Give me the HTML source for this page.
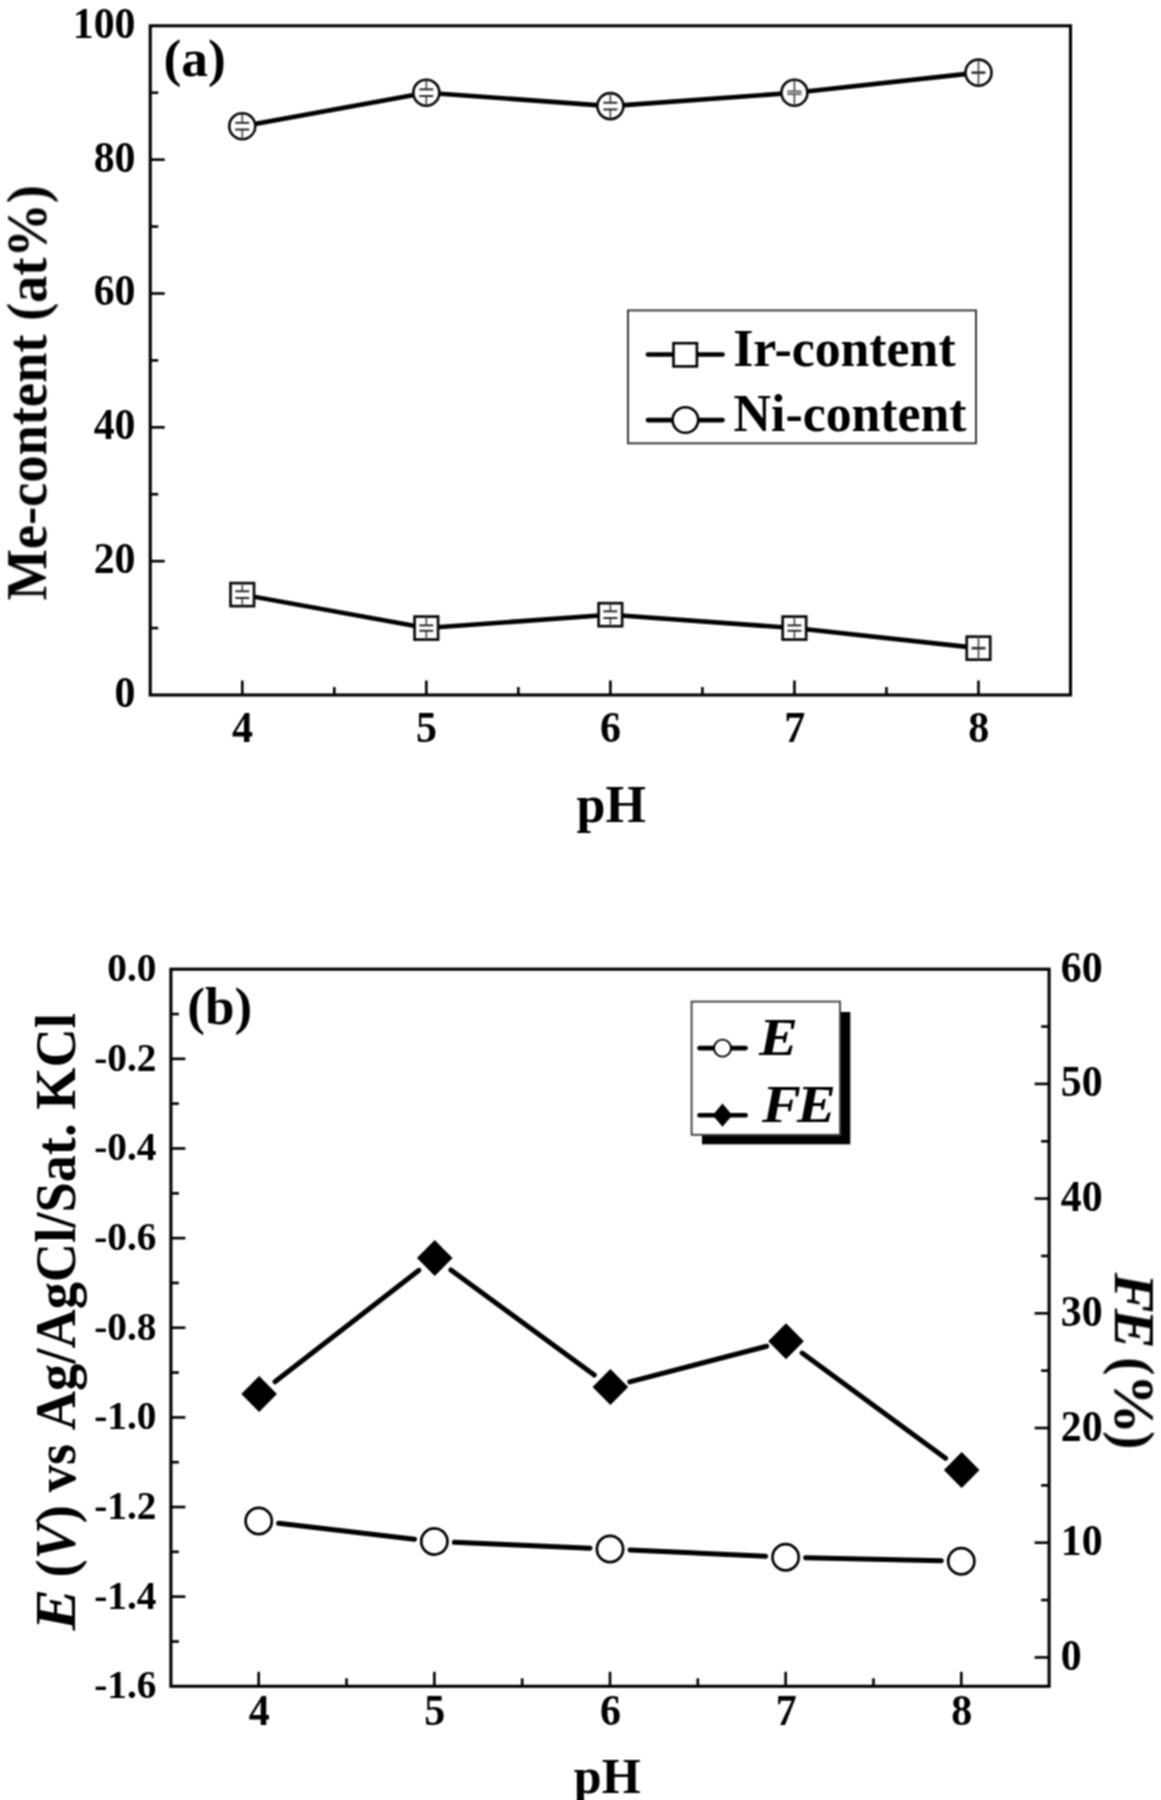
<!DOCTYPE html>
<html lang="en"><head><meta charset="utf-8"><title>Figure</title>
<style>html,body{margin:0;padding:0;background:#fff}svg{display:block}text{font-family:'Liberation Serif', 'Times New Roman', serif;font-weight:bold;fill:#000}</style></head><body>
<svg width="1161" height="1800" viewBox="0 0 1161 1800">
<defs><filter id="soft" x="0" y="0" width="1161" height="1800" filterUnits="userSpaceOnUse" color-interpolation-filters="sRGB"><feConvolveMatrix order="3" kernelMatrix="2 3 2 3 4 3 2 3 2" divisor="24" edgeMode="duplicate" preserveAlpha="true"/></filter></defs>
<g filter="url(#soft)">
<rect width="1161" height="1800" fill="#fff"/>
<rect x="150.25" y="25.80" width="920.25" height="669.20" fill="none" stroke="#000" stroke-width="3.10"/>
<line x1="150.25" y1="628.08" x2="158.25" y2="628.08" stroke="#000" stroke-width="2.60" stroke-linecap="butt"/>
<line x1="150.25" y1="561.16" x2="164.75" y2="561.16" stroke="#000" stroke-width="2.60" stroke-linecap="butt"/>
<line x1="150.25" y1="494.24" x2="158.25" y2="494.24" stroke="#000" stroke-width="2.60" stroke-linecap="butt"/>
<line x1="150.25" y1="427.32" x2="164.75" y2="427.32" stroke="#000" stroke-width="2.60" stroke-linecap="butt"/>
<line x1="150.25" y1="360.40" x2="158.25" y2="360.40" stroke="#000" stroke-width="2.60" stroke-linecap="butt"/>
<line x1="150.25" y1="293.48" x2="164.75" y2="293.48" stroke="#000" stroke-width="2.60" stroke-linecap="butt"/>
<line x1="150.25" y1="226.56" x2="158.25" y2="226.56" stroke="#000" stroke-width="2.60" stroke-linecap="butt"/>
<line x1="150.25" y1="159.64" x2="164.75" y2="159.64" stroke="#000" stroke-width="2.60" stroke-linecap="butt"/>
<line x1="150.25" y1="92.72" x2="158.25" y2="92.72" stroke="#000" stroke-width="2.60" stroke-linecap="butt"/>
<line x1="242.28" y1="695.00" x2="242.28" y2="680.50" stroke="#000" stroke-width="2.60" stroke-linecap="butt"/>
<line x1="334.30" y1="695.00" x2="334.30" y2="687.00" stroke="#000" stroke-width="2.60" stroke-linecap="butt"/>
<line x1="426.33" y1="695.00" x2="426.33" y2="680.50" stroke="#000" stroke-width="2.60" stroke-linecap="butt"/>
<line x1="518.35" y1="695.00" x2="518.35" y2="687.00" stroke="#000" stroke-width="2.60" stroke-linecap="butt"/>
<line x1="610.38" y1="695.00" x2="610.38" y2="680.50" stroke="#000" stroke-width="2.60" stroke-linecap="butt"/>
<line x1="702.40" y1="695.00" x2="702.40" y2="687.00" stroke="#000" stroke-width="2.60" stroke-linecap="butt"/>
<line x1="794.43" y1="695.00" x2="794.43" y2="680.50" stroke="#000" stroke-width="2.60" stroke-linecap="butt"/>
<line x1="886.45" y1="695.00" x2="886.45" y2="687.00" stroke="#000" stroke-width="2.60" stroke-linecap="butt"/>
<line x1="978.48" y1="695.00" x2="978.48" y2="680.50" stroke="#000" stroke-width="2.60" stroke-linecap="butt"/>
<text transform="translate(135.50 707.00) scale(1.000 1.050)" font-size="41.80" text-anchor="end" >0</text>
<text transform="translate(135.50 573.16) scale(1.000 1.050)" font-size="41.80" text-anchor="end" >20</text>
<text transform="translate(135.50 439.32) scale(1.000 1.050)" font-size="41.80" text-anchor="end" >40</text>
<text transform="translate(135.50 305.48) scale(1.000 1.050)" font-size="41.80" text-anchor="end" >60</text>
<text transform="translate(135.50 171.64) scale(1.000 1.050)" font-size="41.80" text-anchor="end" >80</text>
<text transform="translate(135.50 37.80) scale(1.000 1.050)" font-size="41.80" text-anchor="end" >100</text>
<text transform="translate(242.47 742.00) scale(1.000 1.040)" font-size="42.00" text-anchor="middle" >4</text>
<text transform="translate(426.53 742.00) scale(1.000 1.040)" font-size="42.00" text-anchor="middle" >5</text>
<text transform="translate(610.58 742.00) scale(1.000 1.040)" font-size="42.00" text-anchor="middle" >6</text>
<text transform="translate(794.63 742.00) scale(1.000 1.040)" font-size="42.00" text-anchor="middle" >7</text>
<text transform="translate(978.68 742.00) scale(1.000 1.040)" font-size="42.00" text-anchor="middle" >8</text>
<text x="611.30" y="822.00" font-size="52.00" text-anchor="middle" >pH</text>
<text x="163.50" y="76.30" font-size="53.50" text-anchor="start" >(a)</text>
<text transform="translate(45.9 600.4) rotate(-90) scale(1 1.035)" font-size="54.4" text-anchor="start">Me-content (at%)</text>
<polyline fill="none" stroke="#000" stroke-width="4.60" stroke-linejoin="round" points="242.28,126.18 426.33,92.72 610.38,106.10 794.43,92.72 978.48,72.64"/>
<polyline fill="none" stroke="#000" stroke-width="4.60" stroke-linejoin="round" points="242.28,594.62 426.33,628.08 610.38,614.70 794.43,628.08 978.48,648.16"/>
<circle cx="242.28" cy="126.18" r="13.0" fill="#fff" stroke="#0a0a0a" stroke-width="2.6"/>
<line x1="242.28" y1="113.78" x2="242.28" y2="122.83" stroke="#444" stroke-width="1.60" stroke-linecap="butt"/>
<line x1="242.28" y1="129.53" x2="242.28" y2="138.58" stroke="#444" stroke-width="1.60" stroke-linecap="butt"/>
<line x1="235.28" y1="122.83" x2="249.28" y2="122.83" stroke="#222" stroke-width="1.90" stroke-linecap="butt"/>
<line x1="235.28" y1="129.53" x2="249.28" y2="129.53" stroke="#222" stroke-width="1.90" stroke-linecap="butt"/>
<circle cx="426.33" cy="92.72" r="13.0" fill="#fff" stroke="#0a0a0a" stroke-width="2.6"/>
<line x1="426.33" y1="80.32" x2="426.33" y2="89.37" stroke="#444" stroke-width="1.60" stroke-linecap="butt"/>
<line x1="426.33" y1="96.07" x2="426.33" y2="105.12" stroke="#444" stroke-width="1.60" stroke-linecap="butt"/>
<line x1="419.33" y1="89.37" x2="433.33" y2="89.37" stroke="#222" stroke-width="1.90" stroke-linecap="butt"/>
<line x1="419.33" y1="96.07" x2="433.33" y2="96.07" stroke="#222" stroke-width="1.90" stroke-linecap="butt"/>
<circle cx="610.38" cy="106.10" r="13.0" fill="#fff" stroke="#0a0a0a" stroke-width="2.6"/>
<line x1="610.38" y1="93.70" x2="610.38" y2="102.76" stroke="#444" stroke-width="1.60" stroke-linecap="butt"/>
<line x1="610.38" y1="109.45" x2="610.38" y2="118.50" stroke="#444" stroke-width="1.60" stroke-linecap="butt"/>
<line x1="603.38" y1="102.76" x2="617.38" y2="102.76" stroke="#222" stroke-width="1.90" stroke-linecap="butt"/>
<line x1="603.38" y1="109.45" x2="617.38" y2="109.45" stroke="#222" stroke-width="1.90" stroke-linecap="butt"/>
<circle cx="794.43" cy="92.72" r="13.0" fill="#fff" stroke="#0a0a0a" stroke-width="2.6"/>
<line x1="794.43" y1="80.32" x2="794.43" y2="105.12" stroke="#444" stroke-width="1.60" stroke-linecap="butt"/>
<line x1="787.43" y1="91.25" x2="801.43" y2="91.25" stroke="#444" stroke-width="1.70" stroke-linecap="butt"/>
<line x1="787.43" y1="94.19" x2="801.43" y2="94.19" stroke="#444" stroke-width="1.70" stroke-linecap="butt"/>
<rect x="787.43" y="91.25" width="14.00" height="2.94" fill="#999"/>
<circle cx="978.48" cy="72.64" r="13.0" fill="#fff" stroke="#0a0a0a" stroke-width="2.6"/>
<line x1="978.48" y1="60.24" x2="978.48" y2="85.04" stroke="#444" stroke-width="1.60" stroke-linecap="butt"/>
<line x1="971.48" y1="72.64" x2="985.48" y2="72.64" stroke="#333" stroke-width="2.60" stroke-linecap="butt"/>
<rect x="230.53" y="583.12" width="23.5" height="23.0" fill="#fff" stroke="#0a0a0a" stroke-width="2.7"/>
<line x1="242.28" y1="583.12" x2="242.28" y2="591.27" stroke="#444" stroke-width="1.60" stroke-linecap="butt"/>
<line x1="242.28" y1="597.97" x2="242.28" y2="606.12" stroke="#444" stroke-width="1.60" stroke-linecap="butt"/>
<line x1="235.28" y1="591.27" x2="249.28" y2="591.27" stroke="#222" stroke-width="1.90" stroke-linecap="butt"/>
<line x1="235.28" y1="597.97" x2="249.28" y2="597.97" stroke="#222" stroke-width="1.90" stroke-linecap="butt"/>
<rect x="414.58" y="616.58" width="23.5" height="23.0" fill="#fff" stroke="#0a0a0a" stroke-width="2.7"/>
<line x1="426.33" y1="616.58" x2="426.33" y2="625.40" stroke="#444" stroke-width="1.60" stroke-linecap="butt"/>
<line x1="426.33" y1="630.76" x2="426.33" y2="639.58" stroke="#444" stroke-width="1.60" stroke-linecap="butt"/>
<line x1="419.33" y1="625.40" x2="433.33" y2="625.40" stroke="#222" stroke-width="1.90" stroke-linecap="butt"/>
<line x1="419.33" y1="630.76" x2="433.33" y2="630.76" stroke="#222" stroke-width="1.90" stroke-linecap="butt"/>
<rect x="598.62" y="603.20" width="23.5" height="23.0" fill="#fff" stroke="#0a0a0a" stroke-width="2.7"/>
<line x1="610.38" y1="603.20" x2="610.38" y2="611.35" stroke="#444" stroke-width="1.60" stroke-linecap="butt"/>
<line x1="610.38" y1="618.04" x2="610.38" y2="626.20" stroke="#444" stroke-width="1.60" stroke-linecap="butt"/>
<line x1="603.38" y1="611.35" x2="617.38" y2="611.35" stroke="#222" stroke-width="1.90" stroke-linecap="butt"/>
<line x1="603.38" y1="618.04" x2="617.38" y2="618.04" stroke="#222" stroke-width="1.90" stroke-linecap="butt"/>
<rect x="782.68" y="616.58" width="23.5" height="23.0" fill="#fff" stroke="#0a0a0a" stroke-width="2.7"/>
<line x1="794.43" y1="616.58" x2="794.43" y2="625.40" stroke="#444" stroke-width="1.60" stroke-linecap="butt"/>
<line x1="794.43" y1="630.76" x2="794.43" y2="639.58" stroke="#444" stroke-width="1.60" stroke-linecap="butt"/>
<line x1="787.43" y1="625.40" x2="801.43" y2="625.40" stroke="#222" stroke-width="1.90" stroke-linecap="butt"/>
<line x1="787.43" y1="630.76" x2="801.43" y2="630.76" stroke="#222" stroke-width="1.90" stroke-linecap="butt"/>
<rect x="966.73" y="636.66" width="23.5" height="23.0" fill="#fff" stroke="#0a0a0a" stroke-width="2.7"/>
<line x1="978.48" y1="636.66" x2="978.48" y2="659.66" stroke="#444" stroke-width="1.60" stroke-linecap="butt"/>
<line x1="971.48" y1="648.16" x2="985.48" y2="648.16" stroke="#333" stroke-width="2.60" stroke-linecap="butt"/>
<rect x="628" y="310.4" width="348" height="132.9" fill="#fff" stroke="#3c3c3c" stroke-width="2"/>
<line x1="648.00" y1="354.50" x2="722.50" y2="354.50" stroke="#000" stroke-width="4.70" stroke-linecap="round"/>
<rect x="673.5" y="343.2" width="23.4" height="23.2" fill="#fff" stroke="#000" stroke-width="2.6"/>
<text transform="translate(733.2 365.8) scale(1 1.02)" font-size="51.8">Ir-content</text>
<line x1="648.00" y1="420.10" x2="722.50" y2="420.10" stroke="#000" stroke-width="4.70" stroke-linecap="round"/>
<circle cx="685.4" cy="420" r="12.8" fill="#fff" stroke="#000" stroke-width="2.6"/>
<text transform="translate(733.6 431.3) scale(1 1.02)" font-size="51.8">Ni-content</text>
<rect x="170.90" y="969.20" width="878.20" height="717.10" fill="none" stroke="#000" stroke-width="3.10"/>
<line x1="170.90" y1="1014.02" x2="178.90" y2="1014.02" stroke="#000" stroke-width="2.60" stroke-linecap="butt"/>
<line x1="170.90" y1="1058.84" x2="185.40" y2="1058.84" stroke="#000" stroke-width="2.60" stroke-linecap="butt"/>
<line x1="170.90" y1="1103.66" x2="178.90" y2="1103.66" stroke="#000" stroke-width="2.60" stroke-linecap="butt"/>
<line x1="170.90" y1="1148.47" x2="185.40" y2="1148.47" stroke="#000" stroke-width="2.60" stroke-linecap="butt"/>
<line x1="170.90" y1="1193.29" x2="178.90" y2="1193.29" stroke="#000" stroke-width="2.60" stroke-linecap="butt"/>
<line x1="170.90" y1="1238.11" x2="185.40" y2="1238.11" stroke="#000" stroke-width="2.60" stroke-linecap="butt"/>
<line x1="170.90" y1="1282.93" x2="178.90" y2="1282.93" stroke="#000" stroke-width="2.60" stroke-linecap="butt"/>
<line x1="170.90" y1="1327.75" x2="185.40" y2="1327.75" stroke="#000" stroke-width="2.60" stroke-linecap="butt"/>
<line x1="170.90" y1="1372.57" x2="178.90" y2="1372.57" stroke="#000" stroke-width="2.60" stroke-linecap="butt"/>
<line x1="170.90" y1="1417.39" x2="185.40" y2="1417.39" stroke="#000" stroke-width="2.60" stroke-linecap="butt"/>
<line x1="170.90" y1="1462.21" x2="178.90" y2="1462.21" stroke="#000" stroke-width="2.60" stroke-linecap="butt"/>
<line x1="170.90" y1="1507.03" x2="185.40" y2="1507.03" stroke="#000" stroke-width="2.60" stroke-linecap="butt"/>
<line x1="170.90" y1="1551.84" x2="178.90" y2="1551.84" stroke="#000" stroke-width="2.60" stroke-linecap="butt"/>
<line x1="170.90" y1="1596.66" x2="185.40" y2="1596.66" stroke="#000" stroke-width="2.60" stroke-linecap="butt"/>
<line x1="170.90" y1="1641.48" x2="178.90" y2="1641.48" stroke="#000" stroke-width="2.60" stroke-linecap="butt"/>
<line x1="1049.10" y1="1026.55" x2="1041.10" y2="1026.55" stroke="#000" stroke-width="2.60" stroke-linecap="butt"/>
<line x1="1049.10" y1="1083.90" x2="1034.60" y2="1083.90" stroke="#000" stroke-width="2.60" stroke-linecap="butt"/>
<line x1="1049.10" y1="1141.25" x2="1041.10" y2="1141.25" stroke="#000" stroke-width="2.60" stroke-linecap="butt"/>
<line x1="1049.10" y1="1198.60" x2="1034.60" y2="1198.60" stroke="#000" stroke-width="2.60" stroke-linecap="butt"/>
<line x1="1049.10" y1="1255.95" x2="1041.10" y2="1255.95" stroke="#000" stroke-width="2.60" stroke-linecap="butt"/>
<line x1="1049.10" y1="1313.30" x2="1034.60" y2="1313.30" stroke="#000" stroke-width="2.60" stroke-linecap="butt"/>
<line x1="1049.10" y1="1370.65" x2="1041.10" y2="1370.65" stroke="#000" stroke-width="2.60" stroke-linecap="butt"/>
<line x1="1049.10" y1="1428.00" x2="1034.60" y2="1428.00" stroke="#000" stroke-width="2.60" stroke-linecap="butt"/>
<line x1="1049.10" y1="1485.35" x2="1041.10" y2="1485.35" stroke="#000" stroke-width="2.60" stroke-linecap="butt"/>
<line x1="1049.10" y1="1542.70" x2="1034.60" y2="1542.70" stroke="#000" stroke-width="2.60" stroke-linecap="butt"/>
<line x1="1049.10" y1="1600.05" x2="1041.10" y2="1600.05" stroke="#000" stroke-width="2.60" stroke-linecap="butt"/>
<line x1="1049.10" y1="1657.40" x2="1034.60" y2="1657.40" stroke="#000" stroke-width="2.60" stroke-linecap="butt"/>
<line x1="258.72" y1="1686.30" x2="258.72" y2="1671.80" stroke="#000" stroke-width="2.60" stroke-linecap="butt"/>
<line x1="346.54" y1="1686.30" x2="346.54" y2="1678.30" stroke="#000" stroke-width="2.60" stroke-linecap="butt"/>
<line x1="434.36" y1="1686.30" x2="434.36" y2="1671.80" stroke="#000" stroke-width="2.60" stroke-linecap="butt"/>
<line x1="522.18" y1="1686.30" x2="522.18" y2="1678.30" stroke="#000" stroke-width="2.60" stroke-linecap="butt"/>
<line x1="610.00" y1="1686.30" x2="610.00" y2="1671.80" stroke="#000" stroke-width="2.60" stroke-linecap="butt"/>
<line x1="697.82" y1="1686.30" x2="697.82" y2="1678.30" stroke="#000" stroke-width="2.60" stroke-linecap="butt"/>
<line x1="785.64" y1="1686.30" x2="785.64" y2="1671.80" stroke="#000" stroke-width="2.60" stroke-linecap="butt"/>
<line x1="873.46" y1="1686.30" x2="873.46" y2="1678.30" stroke="#000" stroke-width="2.60" stroke-linecap="butt"/>
<line x1="961.28" y1="1686.30" x2="961.28" y2="1671.80" stroke="#000" stroke-width="2.60" stroke-linecap="butt"/>
<text transform="translate(156.40 981.10) scale(1.000 1.040)" font-size="39.30" text-anchor="end" >0.0</text>
<text transform="translate(156.40 1070.74) scale(1.000 1.040)" font-size="39.30" text-anchor="end" >-0.2</text>
<text transform="translate(156.40 1160.38) scale(1.000 1.040)" font-size="39.30" text-anchor="end" >-0.4</text>
<text transform="translate(156.40 1250.01) scale(1.000 1.040)" font-size="39.30" text-anchor="end" >-0.6</text>
<text transform="translate(156.40 1339.65) scale(1.000 1.040)" font-size="39.30" text-anchor="end" >-0.8</text>
<text transform="translate(156.40 1429.29) scale(1.000 1.040)" font-size="39.30" text-anchor="end" >-1.0</text>
<text transform="translate(156.40 1518.93) scale(1.000 1.040)" font-size="39.30" text-anchor="end" >-1.2</text>
<text transform="translate(156.40 1608.56) scale(1.000 1.040)" font-size="39.30" text-anchor="end" >-1.4</text>
<text transform="translate(156.40 1698.20) scale(1.000 1.040)" font-size="39.30" text-anchor="end" >-1.6</text>
<text transform="translate(1060.80 1669.90) scale(1.000 1.070)" font-size="41.80" text-anchor="start" >0</text>
<text transform="translate(1060.80 1555.20) scale(1.000 1.070)" font-size="41.80" text-anchor="start" >10</text>
<text transform="translate(1060.80 1440.50) scale(1.000 1.070)" font-size="41.80" text-anchor="start" >20</text>
<text transform="translate(1060.80 1325.80) scale(1.000 1.070)" font-size="41.80" text-anchor="start" >30</text>
<text transform="translate(1060.80 1211.10) scale(1.000 1.070)" font-size="41.80" text-anchor="start" >40</text>
<text transform="translate(1060.80 1096.40) scale(1.000 1.070)" font-size="41.80" text-anchor="start" >50</text>
<text transform="translate(1060.80 981.70) scale(1.000 1.070)" font-size="41.80" text-anchor="start" >60</text>
<text transform="translate(259.22 1725.20) scale(1.000 1.040)" font-size="42.00" text-anchor="middle" >4</text>
<text transform="translate(434.86 1725.20) scale(1.000 1.040)" font-size="42.00" text-anchor="middle" >5</text>
<text transform="translate(610.50 1725.20) scale(1.000 1.040)" font-size="42.00" text-anchor="middle" >6</text>
<text transform="translate(786.14 1725.20) scale(1.000 1.040)" font-size="42.00" text-anchor="middle" >7</text>
<text transform="translate(961.78 1725.20) scale(1.000 1.040)" font-size="42.00" text-anchor="middle" >8</text>
<text x="607.20" y="1792.60" font-size="50.00" text-anchor="middle" >pH</text>
<text x="187.30" y="1024.40" font-size="53.00" text-anchor="start" >(b)</text>
<g transform="translate(74.6 1630.6) rotate(-90) scale(1 1.035)" font-size="54.4"><text transform="scale(1.15 1)" font-style="italic">E </text><text x="53.0">(<tspan font-style="italic">V</tspan>) </text><text x="138.4">vs </text><text x="200.4">Ag/AgCl/Sat. KCl</text></g>
<g transform="translate(1114.8 1272.7) rotate(90) scale(1 1.04)" font-size="54.4"><text transform="scale(1.1 1)" font-style="italic" letter-spacing="-3.5">FE </text><text x="84.5">(</text><text transform="translate(101.2 0) scale(1.107 1)">%</text><text x="158.5">)</text></g>
<line x1="274.94" y1="1381.76" x2="418.94" y2="1270.34" stroke="#000" stroke-width="5.00" stroke-linecap="round"/>
<line x1="450.89" y1="1269.93" x2="594.27" y2="1375.07" stroke="#000" stroke-width="5.00" stroke-linecap="round"/>
<line x1="629.76" y1="1381.86" x2="766.68" y2="1346.24" stroke="#000" stroke-width="5.00" stroke-linecap="round"/>
<line x1="802.16" y1="1353.03" x2="945.56" y2="1458.27" stroke="#000" stroke-width="5.00" stroke-linecap="round"/>
<line x1="278.59" y1="1523.32" x2="414.49" y2="1539.18" stroke="#000" stroke-width="5.00" stroke-linecap="round"/>
<line x1="454.34" y1="1542.35" x2="590.02" y2="1548.15" stroke="#000" stroke-width="5.00" stroke-linecap="round"/>
<line x1="629.98" y1="1549.93" x2="765.66" y2="1556.27" stroke="#000" stroke-width="5.00" stroke-linecap="round"/>
<line x1="805.63" y1="1557.67" x2="941.29" y2="1560.83" stroke="#000" stroke-width="5.00" stroke-linecap="round"/>
<polygon points="241.32,1394.00 259.12,1376.00 276.92,1394.00 259.12,1412.00" fill="#000"/>
<polygon points="416.96,1258.10 434.76,1240.10 452.56,1258.10 434.76,1276.10" fill="#000"/>
<polygon points="592.60,1386.90 610.40,1368.90 628.20,1386.90 610.40,1404.90" fill="#000"/>
<polygon points="768.24,1341.20 786.04,1323.20 803.84,1341.20 786.04,1359.20" fill="#000"/>
<polygon points="943.88,1470.10 961.68,1452.10 979.48,1470.10 961.68,1488.10" fill="#000"/>
<circle cx="258.72" cy="1521.00" r="13.1" fill="#fff" stroke="#000" stroke-width="2.7"/>
<circle cx="434.36" cy="1541.50" r="13.1" fill="#fff" stroke="#000" stroke-width="2.7"/>
<circle cx="610.00" cy="1549.00" r="13.1" fill="#fff" stroke="#000" stroke-width="2.7"/>
<circle cx="785.64" cy="1557.20" r="13.1" fill="#fff" stroke="#000" stroke-width="2.7"/>
<circle cx="961.28" cy="1561.30" r="13.1" fill="#fff" stroke="#000" stroke-width="2.7"/>
<rect x="702" y="1012" width="148.3" height="132.3" fill="#000"/>
<rect x="691.6" y="1001.6" width="148.4" height="133.2" fill="#fff" stroke="#444" stroke-width="1.9"/>
<line x1="699.50" y1="1048.10" x2="745.60" y2="1048.10" stroke="#000" stroke-width="4.60" stroke-linecap="round"/>
<circle cx="722.5" cy="1048.1" r="8.5" fill="#fff" stroke="#000" stroke-width="1.9"/>
<text transform="translate(759 1054.6) scale(1.1 1.015)" font-size="53" font-style="italic">E</text>
<line x1="699.50" y1="1115.20" x2="745.60" y2="1115.20" stroke="#000" stroke-width="4.60" stroke-linecap="round"/>
<polygon points="712.7,1115.2 722.5,1103.6 732.3,1115.2 722.5,1126.8" fill="#000"/>
<text transform="translate(762 1121.7) scale(1.1 1.015)" font-size="53" font-style="italic" letter-spacing="-3.5">FE</text>
</g></svg></body></html>
